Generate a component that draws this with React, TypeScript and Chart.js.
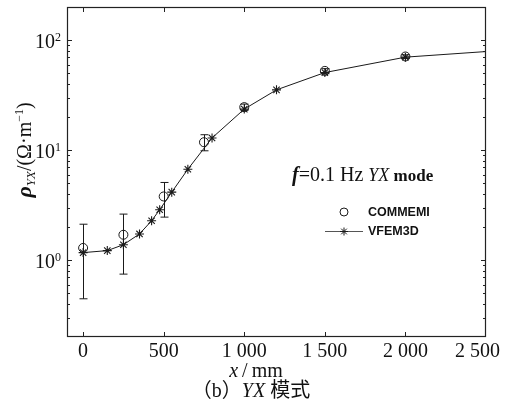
import React, { useEffect, useRef } from "react";
import { Chart, registerables } from "chart.js";

Chart.register(...registerables);

// ---- data ----
const vfemX = [0, 150, 250, 350, 425, 475, 550, 650, 800, 1000, 1200, 1500, 2000, 2500];
const vfemY = [1.17, 1.22, 1.38, 1.73, 2.28, 2.87, 4.15, 6.7, 12.9, 23.6, 35.3, 50.7, 70, 78.7];
const commX = [0, 250, 500, 750, 1000, 1500, 2000];
const commY = [1.29, 1.7, 3.79, 11.8, 24.6, 52.5, 71];
const commLow = [0.445, 0.746, 2.46, 9.86, 23.0, 49.5, 68];
const commHigh = [2.12, 2.62, 5.08, 13.8, 26.2, 55.0, 73.5];
const xTicks = [0, 500, 1000, 1500, 2000, 2500];
const xTickLabels = ["0", "500", "1 000", "1 500", "2 000", "2 500"];
const yMajor = [1, 10, 100];
const yExps = ["0", "1", "2"];
const seriesNames = ["COMMEMI", "VFEM3D"];

const SERIF = '"Liberation Serif", "DejaVu Serif", serif';
const SANS = '"Liberation Sans", Arial, sans-serif';
const CJK = '"Noto Sans CJK SC", sans-serif';
const INK = "#1a1a1a";

type Run = { t: string; f: string; dy?: number };

function runsWidth(ctx: CanvasRenderingContext2D, runs: Run[]) {
  let w = 0;
  for (const r of runs) {
    ctx.font = r.f;
    w += ctx.measureText(r.t).width;
  }
  return w;
}

function drawRuns(ctx: CanvasRenderingContext2D, runs: Run[], x: number, y: number, align: "left" | "center" | "right") {
  const w = runsWidth(ctx, runs);
  let cx = align === "left" ? x : align === "center" ? x - w / 2 : x - w;
  ctx.textAlign = "left";
  ctx.textBaseline = "alphabetic";
  for (const r of runs) {
    ctx.font = r.f;
    ctx.fillText(r.t, cx, y + (r.dy || 0));
    cx += ctx.measureText(r.t).width;
  }
}

const framePlugin = {
  id: "framePlugin",
  beforeDatasetsDraw(chart: any) {
    const { ctx, scales } = chart;
    const xs = scales.x, ys = scales.y;
    ctx.save();
    ctx.strokeStyle = INK;
    ctx.lineWidth = 1;
    commX.forEach((xv, i) => {
      const px = Math.round(xs.getPixelForValue(xv)) + 0.5;
      const lo = ys.getPixelForValue(commLow[i]);
      const hi = ys.getPixelForValue(commHigh[i]);
      ctx.beginPath();
      ctx.moveTo(px, lo);
      ctx.lineTo(px, hi);
      ctx.moveTo(px - 4, lo);
      ctx.lineTo(px + 4, lo);
      ctx.moveTo(px - 4, hi);
      ctx.lineTo(px + 4, hi);
      ctx.stroke();
    });
    ctx.restore();
  },
  afterDatasetsDraw(chart: any) {
    const { ctx, chartArea: a, scales } = chart;
    const xs = scales.x, ys = scales.y;
    ctx.save();
    ctx.strokeStyle = "#222";
    ctx.lineWidth = 1.2;
    ctx.strokeRect(a.left + 0.5, a.top + 0.5, a.right - a.left - 1, a.bottom - a.top - 1);

    // x ticks (inward, top & bottom)
    ctx.lineWidth = 1;
    xTicks.forEach((v) => {
      const px = Math.round(xs.getPixelForValue(v)) + 0.5;
      if (px > a.right - 2) return;
      ctx.beginPath();
      ctx.moveTo(px, a.bottom);
      ctx.lineTo(px, a.bottom - 5);
      ctx.moveTo(px, a.top);
      ctx.lineTo(px, a.top + 5);
      ctx.stroke();
    });
    // y ticks major + minor (inward, left & right)
    const ymin = ys.min, ymax = ys.max;
    for (let e = -1; e <= 2; e++) {
      for (let m = 1; m <= 9; m++) {
        const v = m * Math.pow(10, e);
        if (v < ymin * 1.0001 || v > ymax * 0.9999) continue;
        const py = Math.round(ys.getPixelForValue(v)) + 0.5;
        const len = m === 1 ? 5 : 3;
        ctx.beginPath();
        ctx.moveTo(a.left, py);
        ctx.lineTo(a.left + len, py);
        ctx.moveTo(a.right, py);
        ctx.lineTo(a.right - len, py);
        ctx.stroke();
      }
    }

    ctx.fillStyle = "#111";
    // x tick labels
    const cw = chart.width;
    xTicks.forEach((v, i) => {
      const px = xs.getPixelForValue(v);
      ctx.font = `20px ${SERIF}`;
      const w = ctx.measureText(xTickLabels[i]).width;
      const cx = Math.min(px, cw - 18 - w / 2);
      drawRuns(ctx, [{ t: xTickLabels[i], f: `20px ${SERIF}` }], cx, a.bottom + 20, "center");
    });
    // y tick labels
    yMajor.forEach((v, i) => {
      const py = ys.getPixelForValue(v);
      ctx.font = `12px ${SERIF}`;
      const ew = ctx.measureText(yExps[i]).width;
      drawRuns(ctx, [{ t: "10", f: `20px ${SERIF}` }], a.left - 6 - ew, py + 8, "right");
      drawRuns(ctx, [{ t: yExps[i], f: `12px ${SERIF}` }], a.left - 6 - ew, py + 1, "left");
    });

    // y axis title (rotated)
    ctx.save();
    ctx.translate(31, 150);
    ctx.rotate(-Math.PI / 2);
    drawRuns(
      ctx,
      [
        { t: "ρ", f: `italic bold 22px ${SERIF}` },
        { t: "YX", f: `italic 13px ${SERIF}`, dy: 4 },
        { t: "/(Ω·m", f: `20px ${SERIF}` },
        { t: "−1", f: `12px ${SERIF}`, dy: -8 },
        { t: ")", f: `20px ${SERIF}` },
      ],
      0,
      0,
      "center"
    );
    ctx.restore();

    // x axis title
    drawRuns(
      ctx,
      [
        { t: "x", f: `italic 20px ${SERIF}` },
        { t: "\u2009/\u2009", f: `20px ${SERIF}` },
        { t: "mm", f: `20px ${SERIF}` },
      ],
      256,
      377,
      "center"
    );
    // caption
    drawRuns(
      ctx,
      [
        { t: "（", f: `20px ${CJK}` },
        { t: "b", f: `20px ${SERIF}` },
        { t: "）", f: `20px ${CJK}` },
        { t: "YX", f: `italic 20px ${SERIF}` },
        { t: " ", f: `20px ${SERIF}` },
        { t: "模式", f: `20px ${CJK}` },
      ],
      251,
      397,
      "center"
    );

    // annotation
    drawRuns(
      ctx,
      [
        { t: "f", f: `italic bold 20px ${SERIF}` },
        { t: "=0.1 Hz ", f: `20px ${SERIF}` },
        { t: "YX", f: `italic 18px ${SERIF}` },
        { t: " mode", f: `bold 17px ${SERIF}` },
      ],
      292,
      181,
      "left"
    );

    // legend
    const ds = chart.data.datasets;
    ctx.font = `bold 12.5px ${SANS}`;
    ctx.textBaseline = "middle";
    ctx.textAlign = "left";
    // COMMEMI
    ctx.strokeStyle = ds[0].borderColor;
    ctx.lineWidth = 1;
    ctx.beginPath();
    ctx.arc(344, 212, 4, 0, Math.PI * 2);
    ctx.stroke();
    ctx.fillStyle = "#111";
    ctx.fillText(seriesNames[0], 368, 212.5);
    // VFEM3D
    ctx.strokeStyle = "#555";
    ctx.lineWidth = 1.2;
    ctx.beginPath();
    ctx.moveTo(325, 231.5);
    ctx.lineTo(363, 231.5);
    ctx.stroke();
    ctx.strokeStyle = ds[1].borderColor;
    ctx.lineWidth = 1;
    const r = 4;
    ctx.beginPath();
    for (let k = 0; k < 4; k++) {
      const ang = (k * Math.PI) / 4;
      ctx.moveTo(344 - r * Math.cos(ang), 231.5 - r * Math.sin(ang));
      ctx.lineTo(344 + r * Math.cos(ang), 231.5 + r * Math.sin(ang));
    }
    ctx.stroke();
    ctx.fillText(seriesNames[1], 368, 231.5);
    ctx.restore();
  },
};

export default function App() {
  const ref = useRef<HTMLCanvasElement | null>(null);
  useEffect(() => {
    if (!ref.current) return;
    const chart = new Chart(ref.current, {
      type: "scatter",
      data: {
        datasets: [
          {
            label: seriesNames[0],
            data: commX.map((x, i) => ({ x, y: commY[i] })),
            showLine: false,
            pointStyle: "circle",
            pointRadius: 4.5,
            pointBorderWidth: 1,
            borderColor: INK,
            backgroundColor: "rgba(0,0,0,0)",
            order: 2,
          },
          {
            label: seriesNames[1],
            data: vfemX.map((x, i) => ({ x, y: vfemY[i] })),
            showLine: true,
            borderColor: INK,
            backgroundColor: INK,
            borderWidth: 1,
            pointStyle: "star",
            pointRadius: vfemX.map((x) => (x >= 2500 ? 0 : 4.5)),
            pointBorderWidth: 1.1,
            tension: 0,
            order: 1,
          },
        ],
      } as any,
      options: {
        responsive: false,
        animation: false,
        layout: { padding: { left: 67, right: 32, top: 7, bottom: 75 } },
        plugins: { legend: { display: false }, tooltip: { enabled: false }, title: { display: false } },
        scales: {
          x: { type: "linear", min: -100, max: 2500, display: false },
          y: { type: "logarithmic", min: 0.2, max: 200, display: false },
        },
      } as any,
      plugins: [framePlugin],
    });
    return () => chart.destroy();
  }, []);
  return (
    <div style={{ position: "fixed", left: 0, top: 0, width: 518, height: 412, background: "#fff" }}>
      <canvas ref={ref} width={518} height={412} style={{ width: 518, height: 412, display: "block" }} />
    </div>
  );
}
